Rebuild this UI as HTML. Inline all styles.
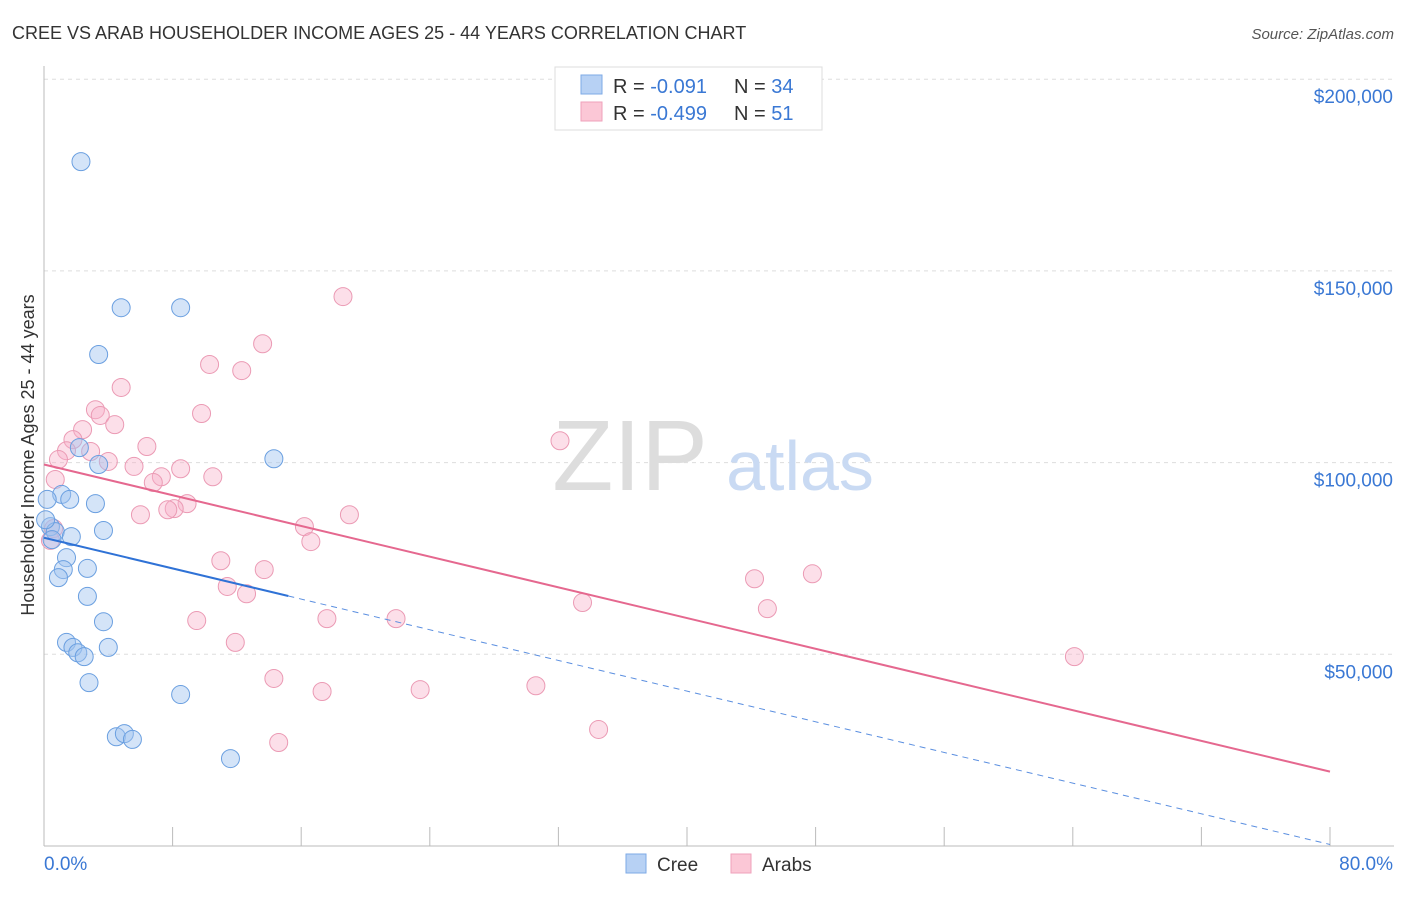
<!DOCTYPE html>
<html><head><meta charset="utf-8">
<style>
body{margin:0;background:#fff;font-family:"Liberation Sans",sans-serif;}
svg text{font-family:"Liberation Sans",sans-serif;}
</style></head>
<body>
<svg id="chart" width="1406" height="892">
<text x="12" y="39" font-size="18" fill="#333">CREE VS ARAB HOUSEHOLDER INCOME AGES 25 - 44 YEARS CORRELATION CHART</text>
<text x="1394" y="39" font-size="15" fill="#555" font-style="italic" text-anchor="end">Source: ZipAtlas.com</text>
<g id="grid"></g>
<text x="630" y="490" font-size="100" fill="#ddd" font-family="Liberation Serif" text-anchor="middle">ZIP</text>
<text x="800" y="490" font-size="70" fill="#c9daf3" text-anchor="middle">atlas</text>
<text transform="translate(34,455) rotate(-90)" font-size="18" fill="#333" text-anchor="middle">Householder Income Ages 25 - 44 years</text>
<g id="marks"></g>
<g>
<rect x="555" y="67" width="267" height="63" fill="#fff" stroke="#ddd"/>
<rect x="581" y="75" width="21" height="19" fill="#b7d1f4" stroke="#7eaae6"/>
<rect x="581" y="102" width="21" height="19" fill="#fbc7d6" stroke="#efa2bb"/>
<text x="613" y="93" font-size="20" fill="#333">R = <tspan fill="#3a78d4">-0.091</tspan></text>
<text x="734" y="93" font-size="20" fill="#333">N = <tspan fill="#3a78d4">34</tspan></text>
<text x="613" y="120" font-size="20" fill="#333">R = <tspan fill="#3a78d4">-0.499</tspan></text>
<text x="734" y="120" font-size="20" fill="#333">N = <tspan fill="#3a78d4"> 51</tspan></text>
</g>
<g>
<rect x="626" y="854" width="20" height="19" fill="#b7d1f4" stroke="#7eaae6"/>
<text x="657" y="871" font-size="19" fill="#333">Cree</text>
<rect x="731" y="854" width="20" height="19" fill="#fbc7d6" stroke="#efa2bb"/>
<text x="762" y="871" font-size="19" fill="#333">Arabs</text>
</g>
</svg>
<script>
const yTicks=[50000,100000,150000,200000];
const yTickLabels=["$50,000","$100,000","$150,000","$200,000"];
const xTickLabels=["0.0%","80.0%"];
const creeX=[2.3,4.8,8.5,3.4,2.2,3.4,14.3,1.1,1.6,3.2,0.4,0.7,1.7,3.7,1.4,1.2,2.7,0.9,2.7,3.7,1.4,1.8,2.1,2.5,4.0,2.8,8.5,4.5,5.0,5.5,11.6,0.2,0.5,0.1];
const creeY=[178500,140400,140400,128200,103900,99500,101000,91700,90400,89300,83300,82000,80700,82300,75200,72100,72400,70000,65100,58500,53100,51800,50400,49400,51800,42600,39500,28500,29300,27800,22800,90400,79900,85100];
const arabX=[18.6,13.6,10.3,12.3,4.8,3.2,9.8,3.5,4.4,2.4,32.1,1.8,6.4,1.4,2.9,0.9,4.0,8.5,5.6,7.3,6.8,10.5,8.9,8.1,7.7,6.0,19.0,16.2,16.6,0.6,0.4,11.0,13.7,44.2,47.8,11.4,12.6,33.5,45.0,9.5,17.6,21.9,11.9,64.1,14.3,17.3,23.4,30.6,34.5,14.6,0.7];
const arabY=[143300,131000,125600,124000,119600,113800,112800,112300,109900,108600,105700,106000,104200,103100,102900,100800,100300,98400,99000,96300,94800,96300,89300,88000,87700,86400,86400,83300,79400,82800,79700,74400,72100,69700,71000,67700,65800,63500,61900,58800,59300,59300,53100,49400,43700,40300,40800,41800,30400,27000,95600];
const creeTrend=[80400,400];
const arabTrend=[99500,19400];
const creeSolidEnd=15.2;
const NS="http://www.w3.org/2000/svg";
const xs=v=>44+v/80*1286;
const ys=v=>846-v*191.7/50000;
function mk(tag,attrs,parent){const e=document.createElementNS(NS,tag);for(const k in attrs)e.setAttribute(k,attrs[k]);parent.appendChild(e);return e;}
const grid=document.getElementById('grid'),marks=document.getElementById('marks');
yTicks.forEach((t,i)=>{
 const l=mk('line',{x1:44,x2:1394,y1:ys(t),y2:ys(t),stroke:'#ddd','stroke-dasharray':'4,4'},grid);
 
 
 const tx=mk('text',{x:1393,y:ys(t)+24,'font-size':19,fill:'#3a78d4','text-anchor':'end'},grid);
 tx.textContent=yTickLabels[i];
 
 
});
const ax=mk('line',{x1:44,x2:1394,y1:846,y2:846,stroke:'#bbb'},grid);


const ay=mk('line',{x1:44,x2:44,y1:66,y2:846,stroke:'#bbb'},grid);


for(let i=0;i<=10;i++){const t=mk('line',{x1:xs(i*8),x2:xs(i*8),y1:827,y2:846,stroke:'#bbb'},grid);
 
 }
const xl0=mk('text',{x:44,y:870,'font-size':19,fill:'#3a78d4'},grid);xl0.textContent=xTickLabels[0];


const xl1=mk('text',{x:1393,y:870,'font-size':19,fill:'#3a78d4','text-anchor':'end'},grid);xl1.textContent=xTickLabels[1];


arabX.forEach((x,i)=>{const c=mk('circle',{cx:xs(x),cy:ys(arabY[i]),r:9,fill:'rgba(247,176,199,0.4)',stroke:'#eb9ab4','stroke-width':1},marks);
 
 });
creeX.forEach((x,i)=>{const c=mk('circle',{cx:xs(x),cy:ys(creeY[i]),r:9,fill:'rgba(160,195,240,0.45)',stroke:'#6a9fe0','stroke-width':1},marks);
 
 });
const cy=x=>creeTrend[0]+(creeTrend[1]-creeTrend[0])*x/80;
const l1=mk('line',{x1:xs(0),y1:ys(cy(0)),x2:xs(creeSolidEnd),y2:ys(cy(creeSolidEnd)),stroke:'#2f72d6','stroke-width':2},marks);


const l2=mk('line',{x1:xs(creeSolidEnd),y1:ys(cy(creeSolidEnd)),x2:xs(80),y2:ys(cy(80)),stroke:'#5b8fe0','stroke-width':1,'stroke-dasharray':'6,5'},marks);


const l3=mk('line',{x1:xs(0),y1:ys(arabTrend[0]),x2:xs(80),y2:ys(arabTrend[1]),stroke:'#e5688f','stroke-width':2},marks);


</script>
</body></html>
